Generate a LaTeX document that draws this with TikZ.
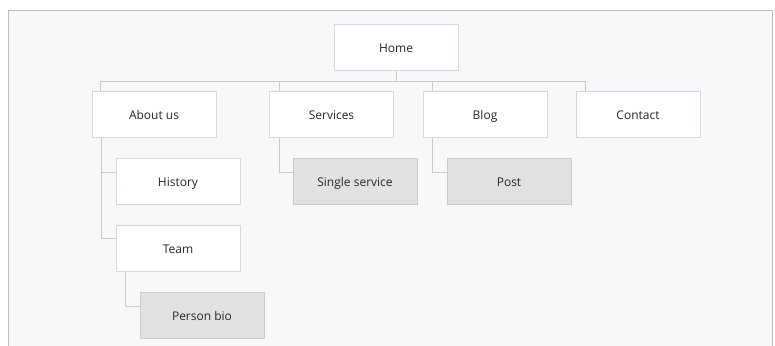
\documentclass[tikz,border=0pt]{standalone}
\usepackage{fontspec}
\setmainfont{Open Sans}
\usetikzlibrary{shadows,backgrounds}

\definecolor{pagebg}{HTML}{F7F8FA}
\definecolor{framecol}{HTML}{BDBDBD}
\definecolor{boxline}{HTML}{D8D8D8}
\definecolor{subfill}{HTML}{E2E2E2}
\definecolor{linkcol}{HTML}{C9C9C9}
\definecolor{textcol}{HTML}{262626}

\tikzset{
  page/.style={draw=boxline, fill=white, minimum width=124pt, minimum height=46pt,
    inner sep=0pt, text height=12.5pt, text depth=2pt,
    font=\fontsize{12}{14}\selectfont, text=textcol,
    drop shadow={opacity=0.12, shadow xshift=0.6pt, shadow yshift=-0.8pt}},
  subpage/.style={page, fill=subfill, draw=subfill!90!black},
  link/.style={draw=linkcol, line width=0.8pt}
}

\begin{document}
\begin{tikzpicture}[x=1pt, y=-1pt]
    \useasboundingbox (0,0) rectangle (775,345);

    \node[page] (Home) at (396,47) {Home};
    \node[page] (About) at (154,114) {About us};
    \node[page] (Services) at (331.5,114) {Services};
    \node[page] (Blog) at (485,114) {Blog};
    \node[page] (Contact) at (638,114) {Contact};
    \node[page] (History) at (178,181) {History};
    \node[subpage] (Single) at (355,181) {Single service};
    \node[subpage] (Post) at (509,181.5) {Post};
    \node[page] (Team) at (178,248) {Team};
    \node[subpage] (Bio) at (202,315) {Person bio};

    \begin{scope}[on background layer]
    % page frame
    \begin{scope}
    \clip (0,0) rectangle (775,345);
    \draw[framecol, fill=pagebg, line width=0.8pt] (8,10) rectangle (772,360);
    \end{scope}

    \coordinate (bar) at (396,81);
    \path[link] (Home.south) edge (bar);
    \draw[link] (bar) -| ([xshift=9pt]About.north west);
    \draw[link] (bar) -| ([xshift=10pt]Services.north west);
    \draw[link] (bar) -| ([xshift=10pt]Blog.north west);
    \draw[link] (bar) -| ([xshift=10pt]Contact.north west);

    \draw[link] ([xshift=10pt]About.south west) |- ([yshift=9pt]History.west);
    \draw[link] ([xshift=10pt]About.south west) |- ([yshift=10pt]Team.west);
    \draw[link] ([xshift=10pt]Team.south west) |- ([yshift=9pt]Bio.west);
    \draw[link] ([xshift=10pt]Services.south west) |- ([yshift=9pt]Single.west);
    \draw[link] ([xshift=10pt]Blog.south west) |- ([yshift=9pt]Post.west);
    \end{scope}

\end{tikzpicture}
\end{document}
